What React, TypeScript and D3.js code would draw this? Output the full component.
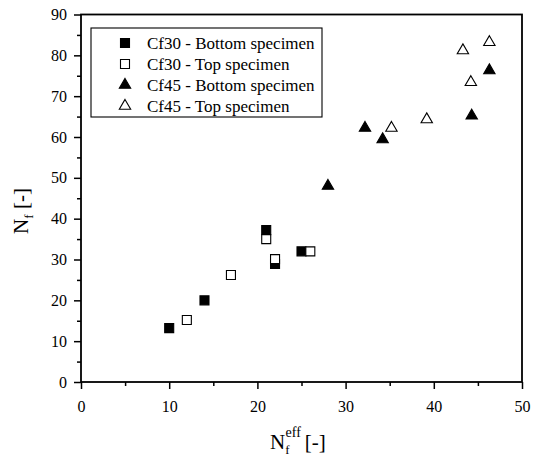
import React, { useRef, useEffect } from "react";
import * as d3 from "d3";

// [Nf_eff, Nf]
const cf30Bottom: [number, number][] = [
  [10, 13.2], [14, 20], [21, 37.2], [22, 28.9], [25, 32],
];
const cf30Top: [number, number][] = [
  [12, 15.2], [17, 26.2], [21, 35], [22, 30.1], [26, 32],
];
const cf45Bottom: [number, number][] = [
  [28, 48], [32.2, 62.2], [34.2, 59.4], [44.3, 65.2], [46.3, 76.3],
];
const cf45Top: [number, number][] = [
  [35.2, 62.2], [39.2, 64.3], [43.3, 81.2], [44.2, 73.4], [46.3, 83.2],
];

const xMajor = [0, 10, 20, 30, 40, 50];
const xMinor = [5, 15, 25, 35, 45];
const yMajor = [0, 10, 20, 30, 40, 50, 60, 70, 80, 90];
const yMinor = [5, 15, 25, 35, 45, 55, 65, 75, 85];

const legendLabels = [
  "Cf30 - Bottom specimen",
  "Cf30 - Top specimen",
  "Cf45 - Bottom specimen",
  "Cf45 - Top specimen",
];

const FONT = '"Liberation Serif", "DejaVu Serif", serif';

const App = () => {
  const svgRef = useRef<SVGSVGElement>(null);

  useEffect(() => {
    const svg = d3.select(svgRef.current);
    svg.selectAll("*").remove();

    const left = 81, right = 522, top = 14.5, bottom = 382;

    const x = d3.scaleLinear().domain([0, 50]).range([left, right]);
    const y = d3.scaleLinear().domain([0, 90]).range([bottom, top]);

    // axes
    const gx = svg.append("g").attr("transform", `translate(0,${bottom})`);
    gx.call(
      d3.axisBottom(x).tickValues(xMajor).tickSize(7).tickPadding(12)
    );
    const gxm = svg.append("g").attr("transform", `translate(0,${bottom})`);
    gxm.call(
      d3.axisBottom(x).tickValues(xMinor).tickSize(4).tickFormat(() => "")
    );

    const gy = svg.append("g").attr("transform", `translate(${left},0)`);
    gy.call(d3.axisLeft(y).tickValues(yMajor).tickSize(7).tickPadding(7));
    const gym = svg.append("g").attr("transform", `translate(${left},0)`);
    gym.call(
      d3.axisLeft(y).tickValues(yMinor).tickSize(4).tickFormat(() => "")
    );

    svg.selectAll("g").attr("font-family", null).attr("font-size", null);
    svg.selectAll(".domain").remove();
    svg
      .selectAll(".tick line")
      .attr("stroke", "#000")
      .attr("stroke-width", 1.5);
    svg
      .selectAll(".tick text")
      .style("font-family", FONT)
      .style("font-size", "16px")
      .attr("fill", "#000");

    // frame
    svg
      .append("rect")
      .attr("x", left)
      .attr("y", top)
      .attr("width", right - left)
      .attr("height", bottom - top)
      .attr("fill", "none")
      .attr("stroke", "#000")
      .attr("stroke-width", 1.8);

    // markers
    const sq = d3.symbol().type(d3.symbolSquare).size(81);
    const tri = d3.symbol().type(d3.symbolTriangle).size(56);

    const series = [
      { data: cf30Bottom, path: sq(), fill: "#000" },
      { data: cf30Top, path: sq(), fill: "#fff" },
      { data: cf45Bottom, path: tri(), fill: "#000" },
      { data: cf45Top, path: tri(), fill: "#fff" },
    ];

    series.forEach((s) => {
      svg
        .append("g")
        .selectAll("path")
        .data(s.data)
        .enter()
        .append("path")
        .attr("d", s.path)
        .attr("transform", (d) => `translate(${x(d[0])},${y(d[1])})`)
        .attr("fill", s.fill)
        .attr("stroke", "#000")
        .attr("stroke-width", 1.1);
    });

    // legend
    const lg = svg.append("g");
    lg.append("rect")
      .attr("x", 91)
      .attr("y", 28)
      .attr("width", 231)
      .attr("height", 89)
      .attr("fill", "#fff")
      .attr("stroke", "#000")
      .attr("stroke-width", 1.1);
    legendLabels.forEach((label, i) => {
      const cy = 43 + i * 21;
      const s = series[i];
      lg.append("path")
        .attr("d", s.path)
        .attr("transform", `translate(125,${cy})`)
        .attr("fill", s.fill)
        .attr("stroke", "#000")
        .attr("stroke-width", 1.1);
      lg.append("text")
        .attr("x", 147)
        .attr("y", cy + 5.5)
        .style("font-family", FONT)
        .style("font-size", "17px")
        .attr("fill", "#000")
        .text(label);
    });

    // x title: N_f^eff [-]
    const xt = svg
      .append("text")
      .attr("x", 270)
      .attr("y", 449)
      .style("font-family", FONT)
      .style("font-size", "21px")
      .attr("fill", "#000");
    xt.append("tspan").text("N");
    xt.append("tspan").style("font-size", "13px").attr("dy", 5).text("f");
    xt.append("tspan").style("font-size", "14px").attr("dx", -4).attr("dy", -17).text("eff");
    xt.append("tspan").attr("dy", 12).attr("dx", 4).text("[-]");

    // y title: N_f [-]
    const yt = svg
      .append("text")
      .attr("transform", `translate(28,211) rotate(-90)`)
      .attr("text-anchor", "middle")
      .style("font-family", FONT)
      .style("font-size", "21px")
      .attr("fill", "#000");
    yt.append("tspan").text("N");
    yt.append("tspan").style("font-size", "13px").attr("dy", 5).text("f");
    yt.append("tspan").attr("dy", -5).text(" [-]");
  }, []);

  return (
    <svg
      ref={svgRef}
      width={533}
      height={465}
      style={{ position: "absolute", left: 0, top: 0, background: "#fff" }}
    ></svg>
  );
};

export default App;
